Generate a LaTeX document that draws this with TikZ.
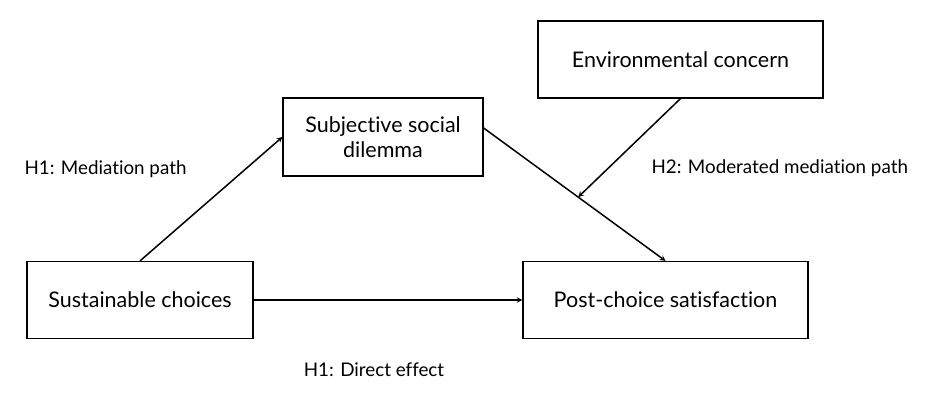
\documentclass[tikz,border=0pt]{standalone}
\usepackage{fontspec}
\setmainfont{Lato}[Ligatures=NoCommon]
\usetikzlibrary{calc}

\tikzset{
  box/.style={draw,line width=1.2pt,minimum height=77pt,align=center,font=\fontsize{21.5}{25}\selectfont},
  hyp/.style={font=\fontsize{18.8}{22}\selectfont},
  path/.style={-stealth,line width=1.5pt}
}

\begin{document}
\begin{tikzpicture}[x=1pt,y=-1pt]
        \useasboundingbox (0,0) rectangle (939,409);
        \node[box,minimum width=226pt] (sus) at (140,300) {Sustainable choices};
        \node[box,minimum width=200pt,minimum height=78pt] (sub) at (383,137) {Subjective social\\dilemma};
        \node[box,minimum width=285pt] (env) at (680.5,59.5) {Environmental concern};
        \node[box,minimum width=285pt] (post) at (665.5,300) {Post-choice satisfaction};
        \coordinate (mod) at ($([yshift=9pt]sub.east)!0.52!(post.north)$);
        \draw[path] (sus.north) -- (sub.west);
        \draw[path] ([yshift=9pt]sub.east) -- (post.north);
        \draw[path] (env.south) -- (mod);
        \draw[path] (sus.east) -- (post.west);
        \node[hyp,anchor=west] (h1m) at (21,169) {H1: Mediation path};
        \node[hyp,anchor=west] (h2) at (648,168) {H2: Moderated mediation path};
        \node[hyp] (h1d) at (374,370) {H1: Direct effect};
      \end{tikzpicture}
\end{document}
